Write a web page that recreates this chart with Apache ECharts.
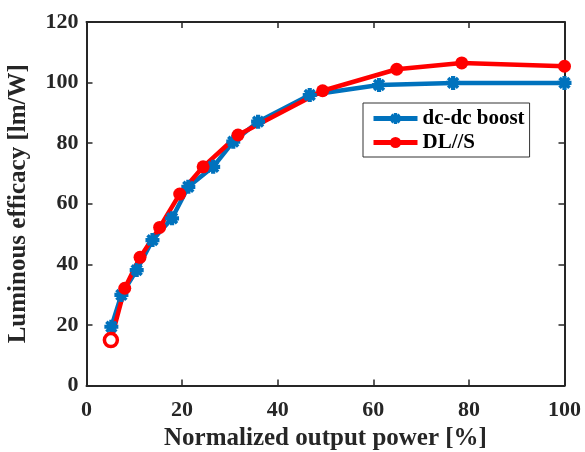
<!DOCTYPE html>
<html>
<head>
<meta charset="utf-8">
<script src="https://cdn.jsdelivr.net/npm/echarts@6/dist/echarts.min.js"></script>
<style>html,body{margin:0;padding:0;background:#fff}#c{width:585px;height:452px}</style>
</head>
<body>
<div id="c"></div>
<script>
const boostX = [5.2, 7.3, 10.5, 13.8, 17.9, 21.3, 26.5, 30.7, 35.9, 46.7, 61.2, 76.7, 100];
const boostY = [19.4, 29.9, 38.1, 48.0, 55.2, 65.6, 72.2, 80.5, 87.1, 95.9, 99.2, 99.9, 99.9];
const dlsX = [5.1, 8.0, 11.2, 15.3, 19.5, 24.4, 31.7, 49.4, 64.9, 78.5, 100];
const dlsY = [15.0, 32.1, 42.3, 52.2, 63.2, 72.2, 82.7, 97.3, 104.4, 106.5, 105.4];
const seriesNames = ['dc-dc boost', 'DL//S'];
const xTicks = [0, 20, 40, 60, 80, 100];
const yTicks = [0, 20, 40, 60, 80, 100, 120];

const FONT = '"Liberation Serif", "Times New Roman", serif';
const AX = '#262626';
const starPath = 'path://M-1,-0.3 L1,-0.3 L1,0.3 L-1,0.3 Z M-0.3,-1 L0.3,-1 L0.3,1 L-0.3,1 Z M-0.53,-0.884 L0.884,0.53 L0.53,0.884 L-0.884,-0.53 Z M-0.884,0.53 L0.53,-0.884 L0.884,-0.53 L-0.53,0.884 Z';

const boostData = boostX.map((x, i) => [x, boostY[i]]);
const dlsData = dlsX.map((x, i) => i === 0
  ? { value: [x, dlsY[i]], itemStyle: { color: '#ffffff', borderColor: '#ff0000', borderWidth: 3.5 } }
  : [x, dlsY[i]]);

const chart = echarts.init(document.getElementById('c'), null, { renderer: 'canvas' });
const xCommon = {
  type: 'value', min: xTicks[0], max: xTicks[xTicks.length - 1], interval: 20,
  splitLine: { show: false },
  axisTick: { inside: true, length: 6, lineStyle: { color: AX, width: 1.5 } },
  axisLine: { onZero: false, lineStyle: { color: AX, width: 2 } }
};
const yCommon = {
  type: 'value', min: yTicks[0], max: yTicks[yTicks.length - 1], interval: 20,
  splitLine: { show: false },
  axisTick: { inside: true, length: 6, lineStyle: { color: AX, width: 1.5 } },
  axisLine: { onZero: false, lineStyle: { color: AX, width: 2 } }
};
chart.setOption({
  animation: false,
  backgroundColor: '#ffffff',
  grid: { left: 86.5, right: 20.5, top: 22, bottom: 66.5, containLabel: false, outerBoundsMode: 'none' },
  legend: {
    orient: 'vertical', left: 363, top: 103,
    data: seriesNames,
    backgroundColor: '#ffffff', borderColor: '#333333', borderWidth: 1,
    padding: [5, 5, 4, 8], itemGap: 3, itemWidth: 44, itemHeight: 14,
    lineStyle: { width: 5 },
    textStyle: { fontFamily: FONT, fontWeight: 'bold', fontSize: 21, color: '#000' }
  },
  xAxis: [
    Object.assign({}, xCommon, {
      position: 'bottom',
      name: 'Normalized output power [%]', nameLocation: 'middle', nameGap: 36,
      nameTextStyle: { fontFamily: FONT, fontWeight: 'bold', fontSize: 25, color: '#262626' },
      axisLabel: { margin: 14, fontFamily: FONT, fontWeight: 'bold', fontSize: 22, color: '#262626' }
    }),
    Object.assign({}, xCommon, { position: 'top', axisLabel: { show: false } })
  ],
  yAxis: [
    Object.assign({}, yCommon, {
      position: 'left',
      name: 'Luminous efficacy [lm/W]', nameLocation: 'middle', nameGap: 55,
      nameTextStyle: { fontFamily: FONT, fontWeight: 'bold', fontSize: 25, color: '#262626' },
      axisLabel: { margin: 8, fontFamily: FONT, fontWeight: 'bold', fontSize: 22, color: '#262626' }
    }),
    Object.assign({}, yCommon, { position: 'right', axisLabel: { show: false } })
  ],
  series: [
    {
      name: seriesNames[0], type: 'line', data: boostData,
      symbol: starPath, symbolSize: 14,
      lineStyle: { color: '#0072BD', width: 4.5 },
      itemStyle: { color: '#0072BD' }
    },
    {
      name: seriesNames[1], type: 'line', data: dlsData,
      symbol: 'circle', symbolSize: 13,
      lineStyle: { color: '#ff0000', width: 4.5 },
      itemStyle: { color: '#ff0000' }
    }
  ]
});
</script>
</body>
</html>
